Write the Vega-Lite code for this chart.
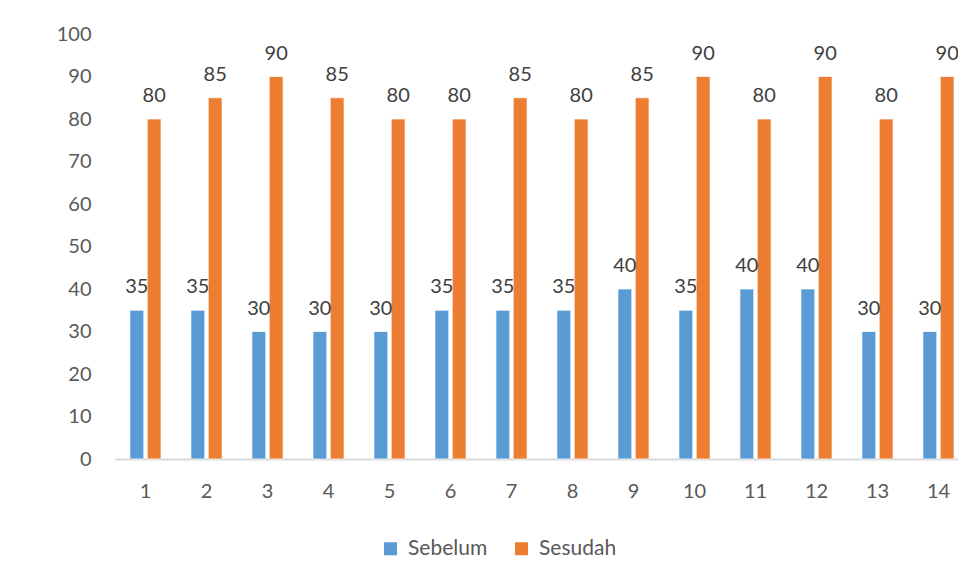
{
  "$schema": "https://vega.github.io/schema/vega-lite/v6.json",
  "autosize": {"type": "none"},
  "padding": {"left": 115, "top": 34, "right": 0, "bottom": 120},
  "width": 843,
  "height": 425,
  "background": "white",
  "config": {
    "view": {"stroke": null},
    "font": "Lato",
    "axis": {"labelFont": "Lato", "labelColor": "#595959", "labelFontSize": 20, "grid": false, "ticks": false, "title": null, "labelOverlap": false}
  },
  "data": {
    "values": [
      {"k": "1", "s": "Sebelum", "v": 35}, {"k": "1", "s": "Sesudah", "v": 80},
      {"k": "2", "s": "Sebelum", "v": 35}, {"k": "2", "s": "Sesudah", "v": 85},
      {"k": "3", "s": "Sebelum", "v": 30}, {"k": "3", "s": "Sesudah", "v": 90},
      {"k": "4", "s": "Sebelum", "v": 30}, {"k": "4", "s": "Sesudah", "v": 85},
      {"k": "5", "s": "Sebelum", "v": 30}, {"k": "5", "s": "Sesudah", "v": 80},
      {"k": "6", "s": "Sebelum", "v": 35}, {"k": "6", "s": "Sesudah", "v": 80},
      {"k": "7", "s": "Sebelum", "v": 35}, {"k": "7", "s": "Sesudah", "v": 85},
      {"k": "8", "s": "Sebelum", "v": 35}, {"k": "8", "s": "Sesudah", "v": 80},
      {"k": "9", "s": "Sebelum", "v": 40}, {"k": "9", "s": "Sesudah", "v": 85},
      {"k": "10", "s": "Sebelum", "v": 35}, {"k": "10", "s": "Sesudah", "v": 90},
      {"k": "11", "s": "Sebelum", "v": 40}, {"k": "11", "s": "Sesudah", "v": 80},
      {"k": "12", "s": "Sebelum", "v": 40}, {"k": "12", "s": "Sesudah", "v": 90},
      {"k": "13", "s": "Sebelum", "v": 30}, {"k": "13", "s": "Sesudah", "v": 80},
      {"k": "14", "s": "Sebelum", "v": 30}, {"k": "14", "s": "Sesudah", "v": 90}
    ]
  },
  "encoding": {
    "x": {
      "field": "k", "type": "ordinal", "sort": null,
      "scale": {"range": [0, 854], "paddingInner": 0.49, "paddingOuter": 0.245},
      "axis": {"labelAngle": 0, "labelPadding": 22, "domainColor": "#d9d9d9", "domainWidth": 2}
    },
    "xOffset": {"field": "s", "type": "nominal", "scale": {"paddingInner": 0.2, "paddingOuter": 0}},
    "y": {
      "field": "v", "type": "quantitative",
      "scale": {"domain": [0, 100], "nice": false},
      "axis": {"values": [0,10,20,30,40,50,60,70,80,90,100], "domain": false, "labelPadding": 24}
    }
  },
  "layer": [
    {
      "mark": {"type": "bar", "stroke": "white", "strokeWidth": 0.7},
      "encoding": {
        "color": {
          "field": "s", "type": "nominal",
          "scale": {"domain": ["Sebelum", "Sesudah"], "range": ["#5b9bd5", "#ed7d31"]},
          "legend": {
            "title": null, "orient": "none", "direction": "horizontal",
            "legendX": 265, "legendY": 504,
            "symbolType": "square", "symbolSize": 169, "symbolStrokeWidth": 0,
            "labelFont": "Lato", "labelFontSize": 21, "labelColor": "#595959",
            "labelOffset": 7, "columnPadding": 23
          }
        }
      }
    },
    {
      "mark": {"type": "text", "baseline": "alphabetic", "dy": -17, "fontSize": 20, "color": "#404040", "font": "Lato"},
      "encoding": {"text": {"field": "v", "type": "quantitative"}}
    }
  ]
}
